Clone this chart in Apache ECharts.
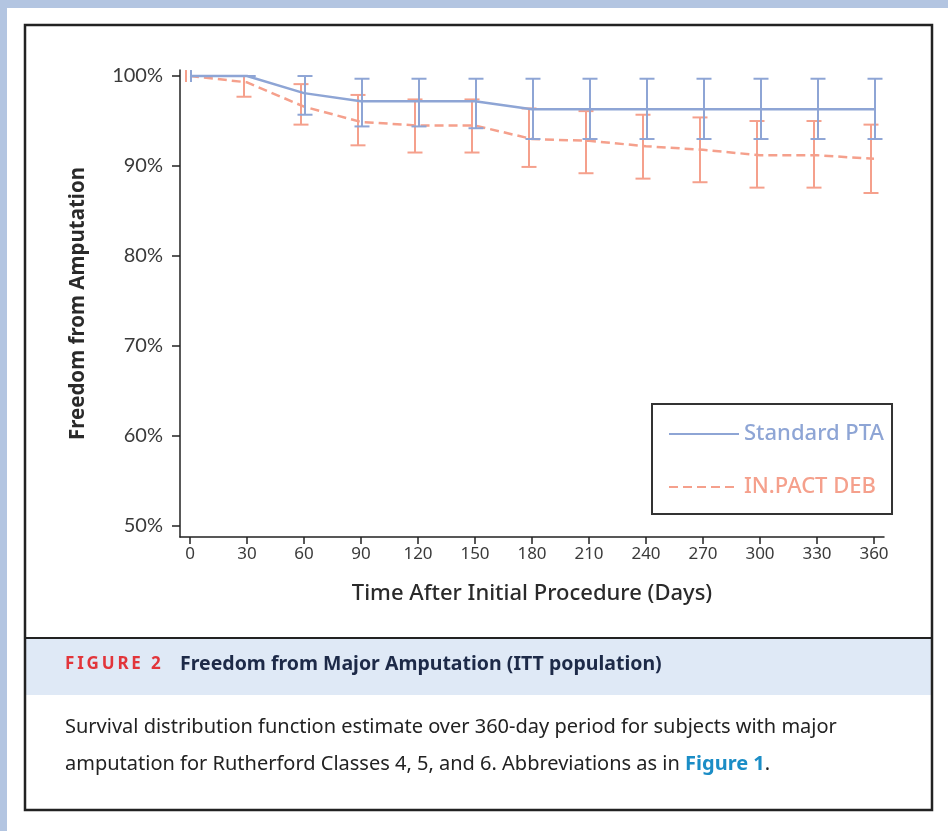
<!DOCTYPE html>
<html>
<head>
<meta charset="utf-8">
<script src="https://cdn.jsdelivr.net/npm/echarts@6/dist/echarts.min.js"></script>
<style>
html,body{margin:0;padding:0;background:#fff;}
#c{width:948px;height:831px;}
</style>
</head>
<body>
<div id="c"></div>
<script>
// ---- data ----
var days = [0, 30, 60, 90, 120, 150, 180, 210, 240, 270, 300, 330, 360];
var xTicks = [0, 30, 60, 90, 120, 150, 180, 210, 240, 270, 300, 330, 360];
var yTicks = [50, 60, 70, 80, 90, 100];
var seriesNames = ['Standard PTA', 'IN.PACT DEB'];
var ptaValues = [100, 100, 98.1, 97.2, 97.2, 97.2, 96.3, 96.3, 96.3, 96.3, 96.3, 96.3, 96.3];
var ptaUpper  = [null, 100, 100, 99.7, 99.7, 99.7, 99.7, 99.7, 99.7, 99.7, 99.7, 99.7, 99.7];
var ptaLower  = [null, 100, 95.7, 94.4, 94.4, 94.2, 93.0, 93.0, 93.0, 93.0, 93.0, 93.0, 93.0];
var debValues = [100, 99.3, 96.6, 94.9, 94.5, 94.5, 93.0, 92.8, 92.2, 91.8, 91.2, 91.2, 90.8];
var debUpper  = [null, 100, 99.1, 97.9, 97.4, 97.4, 96.4, 96.1, 95.7, 95.4, 95.0, 95.0, 94.6];
var debLower  = [null, 97.7, 94.6, 92.3, 91.5, 91.5, 89.9, 89.2, 88.6, 88.2, 87.6, 87.6, 87.0];
var censorDays = [0];
var censorValues = [100];

var BLUE = '#8ea5d5';
var RED = '#f5a08c';

function pairs(xs, ys) { return xs.map(function (x, i) { return [x, ys[i]]; }); }
function errData(xs, lo, hi) {
  var out = [];
  xs.forEach(function (x, i) { if (lo[i] != null) out.push([x, lo[i], hi[i]]); });
  return out;
}
function errRender(color, dx) {
  return function (params, api) {
    var x = api.value(0), lo = api.value(1), hi = api.value(2);
    var p1 = api.coord([x, hi]), p2 = api.coord([x, lo]);
    var cx = p1[0] + dx, hw = 7.5;
    var st = { stroke: color, lineWidth: 2 };
    return { type: 'group', children: [
      { type: 'line', shape: { x1: cx, y1: p1[1], x2: cx, y2: p2[1] }, style: st },
      { type: 'line', shape: { x1: cx - hw, y1: p1[1], x2: cx + hw, y2: p1[1] }, style: st },
      { type: 'line', shape: { x1: cx - hw, y1: p2[1], x2: cx + hw, y2: p2[1] }, style: st }
    ]};
  };
}
function censorRender(color, dx) {
  return function (params, api) {
    var p = api.coord([api.value(0), api.value(1)]);
    return { type: 'line', shape: { x1: p[0] + dx, y1: p[1] - 6, x2: p[0] + dx, y2: p[1] + 6 },
      style: { stroke: color, lineWidth: 2 } };
  };
}

var chart = echarts.init(document.getElementById('c'), null, { renderer: 'canvas' });
var FONT = 'Noto Sans';
var TS = '\u2009';
var option = {
  backgroundColor: '#ffffff',
  animation: false,
  grid: { left: 180, right: 64, top: 70, bottom: 294, containLabel: false },
  xAxis: {
    type: 'value', min: -5.26, max: 365.26,
    name: 'Time After Initial Procedure (Days)', nameLocation: 'middle', nameGap: 46,
    nameTextStyle: { fontFamily: FONT, fontSize: 22, fontWeight: 500, color: '#2a2a2a' },
    axisLine: { show: true, onZero: false, lineStyle: { color: '#222', width: 1.5 } },
    axisTick: { show: true, length: 7, lineStyle: { color: '#222', width: 1.5 }, customValues: xTicks },
    axisLabel: { customValues: xTicks, margin: 9, fontFamily: FONT, fontSize: 17, color: '#3a3a3a' },
    splitLine: { show: false }
  },
  yAxis: {
    type: 'value', min: 48.78, max: 100.67,
    name: 'Freedom from Amputation', nameLocation: 'middle', nameGap: 91, nameRotate: 90,
    nameTextStyle: { fontFamily: FONT, fontSize: 20.5, fontWeight: 'bold', color: '#2a2a2a' },
    axisLine: { show: true, onZero: false, lineStyle: { color: '#222', width: 1.5 } },
    axisTick: { show: true, length: 8, lineStyle: { color: '#222', width: 1.5 }, customValues: yTicks },
    axisLabel: { customValues: yTicks, margin: 17, fontFamily: 'Lato', fontSize: 20, color: '#3a3a3a',
      formatter: function (v) { return Math.round(v) + '%'; } },
    splitLine: { show: false }
  },
  legend: {
    orient: 'vertical', left: 652, top: 404,
    padding: [19, 8, 16, 16], itemGap: 31, itemWidth: 70, itemHeight: 14,
    borderColor: '#333', borderWidth: 2,
    itemStyle: { opacity: 0 },
    data: [
      { name: seriesNames[0], textStyle: { color: BLUE } },
      { name: seriesNames[1], textStyle: { color: RED } }
    ],
    textStyle: { fontFamily: FONT, fontSize: 22, fontWeight: 500 }
  },
  series: [
    { name: seriesNames[1], type: 'line', data: pairs(days, debValues), symbol: 'none', z: 3,
      lineStyle: { color: RED, width: 2.5, type: [9, 5] }, itemStyle: { color: RED } },
    { name: seriesNames[0], type: 'line', data: pairs(days, ptaValues), symbol: 'none', z: 4,
      lineStyle: { color: BLUE, width: 2.5 }, itemStyle: { color: BLUE } },
    { type: 'custom', name: 'debErr', data: errData(days, debLower, debUpper), renderItem: errRender(RED, -3), z: 2 },
    { type: 'custom', name: 'ptaErr', data: errData(days, ptaLower, ptaUpper), renderItem: errRender(BLUE, 1), z: 5 },
    { type: 'custom', name: 'debCensor', data: pairs(censorDays, censorValues), renderItem: censorRender(RED, -4), z: 5 },
    { type: 'custom', name: 'ptaCensor', data: pairs(censorDays, censorValues), renderItem: censorRender(BLUE, 1), z: 5 }
  ],
  graphic: [
    { type: 'rect', silent: true, z: -10, shape: { x: 0, y: 0, width: 948, height: 8 }, style: { fill: '#b3c5e1' } },
    { type: 'rect', silent: true, z: -10, shape: { x: 0, y: 0, width: 7, height: 831 }, style: { fill: '#b3c5e1' } },
    { type: 'rect', silent: true, z: -9, shape: { x: 26, y: 638, width: 905, height: 57 }, style: { fill: '#dfe9f6' } },
    { type: 'line', silent: true, shape: { x1: 26, y1: 638, x2: 931, y2: 638 }, style: { stroke: '#222', lineWidth: 2 } },
    { type: 'rect', silent: true, shape: { x: 25, y: 25, width: 907, height: 785 }, style: { fill: null, stroke: '#222', lineWidth: 2.5 } },
    { type: 'text', silent: true, left: 65, top: 656,
      style: { text: ['F','I','G','U','R','E',' ','2'].join(TS), fontFamily: FONT, fontSize: 17, fontWeight: 'bold', fill: '#e2353b' } },
    { type: 'text', silent: true, left: 180, top: 654,
      style: { text: 'Freedom from Major Amputation (ITT population)', fontFamily: FONT, fontSize: 19.5, fontWeight: 'bold', fill: '#1d2a48' } },
    { type: 'text', silent: true, left: 65, top: 717,
      style: { text: 'Survival distribution function estimate over 360-day period for subjects with major',
        fontFamily: FONT, fontSize: 20, fill: '#222' } },
    { type: 'text', silent: true, left: 65, top: 754,
      style: { text: '{t|amputation for Rutherford Classes 4, 5, and 6. Abbreviations as in }{b|Figure 1}{t|.}',
        rich: {
          t: { fontFamily: FONT, fontSize: 20, fill: '#222' },
          b: { fontFamily: FONT, fontSize: 20, fontWeight: 'bold', fill: '#1b8dc6' }
        } } }
  ]
};
chart.setOption(option);
</script>
</body>
</html>
